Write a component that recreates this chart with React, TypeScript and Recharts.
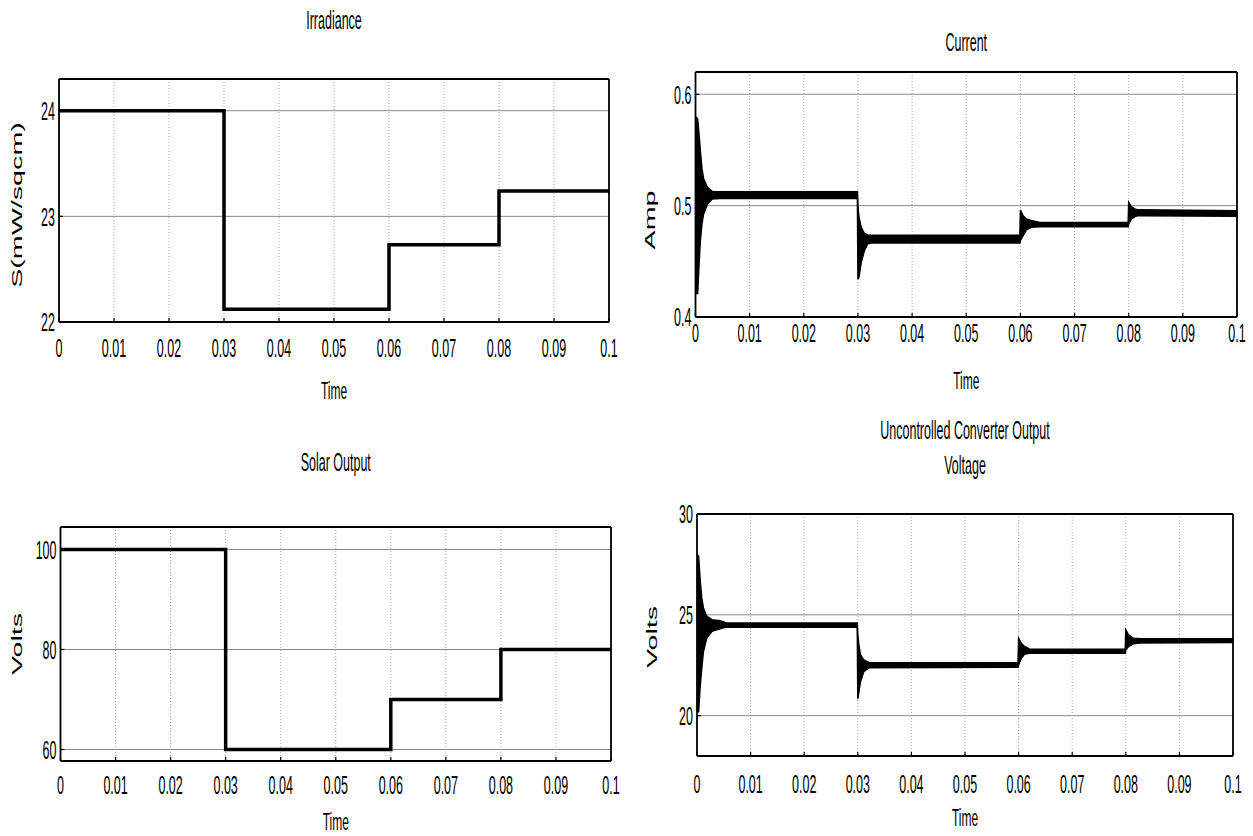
import React from "react";
import { ComposedChart, Line, Area, XAxis, YAxis, CartesianGrid } from "recharts";

// ---------- data ----------
const timeTicks = [0, 0.01, 0.02, 0.03, 0.04, 0.05, 0.06, 0.07, 0.08, 0.09, 0.1];
const timeTickLabels = ["0", "0.01", "0.02", "0.03", "0.04", "0.05", "0.06", "0.07", "0.08", "0.09", "0.1"];

const stepTimes = [0, 0.03, 0.06, 0.08, 0.1];
const irradianceValues = [24, 22.12, 22.73, 23.24, 23.24];
const solarValues = [100, 60, 70, 80, 80];

const irradianceTicks = [22, 23, 24];
const currentTicks = [0.4, 0.5, 0.6];
const solarTicks = [60, 80, 100];
const voltageTicks = [20, 25, 30];

// envelope (min / max) of the ripple
const currentTime = [0, 0.0004, 0.0006, 0.0009, 0.0012, 0.0015, 0.0022, 0.0031, 0.0045, 0.0299, 0.03, 0.0302, 0.0306, 0.0312, 0.0318, 0.0325, 0.0599, 0.06, 0.0605, 0.0611, 0.062, 0.0636, 0.0799, 0.08, 0.0805, 0.0811, 0.0817, 0.1];
const currentHigh = [0.58, 0.578, 0.567, 0.549, 0.533, 0.524, 0.5164, 0.5128, 0.5125, 0.5125, 0.499, 0.4895, 0.4806, 0.475, 0.4737, 0.4735, 0.4735, 0.4961, 0.491, 0.488, 0.4866, 0.4848, 0.4848, 0.503, 0.4991, 0.497, 0.4962, 0.4955];
const currentLow = [0.421, 0.421, 0.442, 0.469, 0.484, 0.4925, 0.5015, 0.506, 0.5065, 0.5065, 0.434, 0.436, 0.449, 0.4597, 0.4657, 0.4665, 0.4665, 0.4687, 0.4731, 0.4782, 0.4806, 0.481, 0.481, 0.4836, 0.488, 0.49, 0.491, 0.4905];

const voltageTime = [0, 0.0003, 0.00056, 0.00088, 0.0012, 0.0018, 0.0028, 0.0043, 0.0049, 0.0055, 0.0299, 0.03, 0.0302, 0.0305, 0.0311, 0.0321, 0.0599, 0.06, 0.0605, 0.0611, 0.062, 0.0799, 0.08, 0.0805, 0.0814, 0.0827, 0.1];
const voltageHigh = [28.0, 27.9, 26.84, 25.84, 25.34, 24.93, 24.76, 24.71, 24.66, 24.59, 24.59, 24.01, 23.51, 23.01, 22.76, 22.64, 22.62, 23.84, 23.59, 23.43, 23.31, 23.29, 24.26, 24.01, 23.84, 23.81, 23.81];
const voltageLow = [20.18, 20.2, 21.34, 22.34, 23.18, 23.84, 24.18, 24.31, 24.36, 24.38, 24.38, 20.84, 21.18, 21.68, 22.18, 22.38, 22.4, 22.51, 22.84, 23.04, 23.09, 23.09, 23.26, 23.43, 23.56, 23.6, 23.63];

// ---------- derived tables ----------
const irradianceData = stepTimes.map((t, i) => ({ t, v: irradianceValues[i] }));
const solarData = stepTimes.map((t, i) => ({ t, v: solarValues[i] }));
const currentData = currentTime.map((t, i) => ({ t, range: [currentLow[i], currentHigh[i]] }));
const voltageData = voltageTime.map((t, i) => ({ t, range: [voltageLow[i], voltageHigh[i]] }));

// ---------- style ----------
const FONT = "'Liberation Sans', Arial, Helvetica, sans-serif";
const SY = 2.05;
const AXIS = { stroke: "#000", strokeWidth: 1.8 };
const TICKLINE = { stroke: "#000", strokeWidth: 1.2 };

type Cfg = {
  box: { x: number; y: number; w: number; h: number };
  plot: { L: number; T: number; R: number; B: number };
  yDomain: [number, number];
  yTicks: number[];
  kind: "step" | "band";
  data: any[];
  xTickDy: number;
  titles: { text: string; y: number }[];
  timeY: number;
  yLabel: { text: string; x: number; y: number };
};

const panels: Cfg[] = [
  {
    box: { x: 0, y: 0, w: 625, h: 410 },
    plot: { L: 59, T: 79, R: 609, B: 322 },
    yDomain: [22, 24.3],
    yTicks: irradianceTicks,
    kind: "step",
    data: irradianceData,
    xTickDy: 26,
    titles: [{ text: "Irradiance", y: 20 }],
    timeY: 390,
    yLabel: { text: "S(mW/sqcm)", x: 17, y: 205 },
  },
  {
    box: { x: 626, y: 0, w: 627, h: 410 },
    plot: { L: 695.5, T: 72, R: 1237, B: 317 },
    yDomain: [0.4, 0.62],
    yTicks: currentTicks,
    kind: "band",
    data: currentData,
    xTickDy: 16,
    titles: [{ text: "Current", y: 42 }],
    timeY: 380,
    yLabel: { text: "Amp", x: 650, y: 220 },
  },
  {
    box: { x: 0, y: 410, w: 625, h: 426 },
    plot: { L: 60.5, T: 527, R: 611, B: 761 },
    yDomain: [57.7, 104.5],
    yTicks: solarTicks,
    kind: "step",
    data: solarData,
    xTickDy: 24,
    titles: [{ text: "Solar Output", y: 462 }],
    timeY: 821,
    yLabel: { text: "Volts", x: 17, y: 644 },
  },
  {
    box: { x: 626, y: 410, w: 627, h: 426 },
    plot: { L: 697, T: 514, R: 1233, B: 756 },
    yDomain: [18, 30],
    yTicks: voltageTicks,
    kind: "band",
    data: voltageData,
    xTickDy: 28,
    titles: [
      { text: "Uncontrolled Converter Output", y: 430 },
      { text: "Voltage", y: 465 },
    ],
    timeY: 817,
    yLabel: { text: "Volts", x: 652, y: 637 },
  },
];

function XTick(props: any) {
  const { x, y, payload, offsetY } = props;
  const i = timeTicks.indexOf(payload.value);
  const label = i >= 0 ? timeTickLabels[i] : String(payload.value);
  return (
    <text
      transform={`translate(${x},${y + offsetY}) scale(1,${SY})`}
      textAnchor="middle"
      dy="0.36em"
      fontSize={12.5}
      fontFamily={FONT}
      fill="#000"
    >
      {label}
    </text>
  );
}

function YTick(props: any) {
  const { x, y, payload } = props;
  return (
    <text
      transform={`translate(${x},${y}) scale(1,${SY})`}
      textAnchor="end"
      dy="0.36em"
      fontSize={12.5}
      fontFamily={FONT}
      fill="#000"
    >
      {String(payload.value)}
    </text>
  );
}

function Panel({ cfg }: { cfg: Cfg }) {
  const { box, plot } = cfg;
  const Yw = 40;
  const Xh = 40;
  const margin = {
    left: plot.L - box.x - Yw,
    top: plot.T - box.y,
    right: box.x + box.w - plot.R,
    bottom: box.y + box.h - plot.B - Xh,
  };
  return (
    <div style={{ position: "absolute", left: box.x, top: box.y }}>
      <ComposedChart width={box.w} height={box.h} margin={margin}>
        <CartesianGrid vertical={false} stroke="#8a8a8a" strokeWidth={1} />
        <CartesianGrid horizontal={false} stroke="#a5a5a5" strokeDasharray="1 2" />
        <XAxis
          type="number"
          dataKey="t"
          domain={[0, 0.1]}
          ticks={timeTicks}
          interval={0}
          allowDataOverflow
          height={Xh}
          tickSize={-4}
          tickMargin={4}
          axisLine={AXIS}
          tickLine={TICKLINE}
          tick={(p: any) => <XTick {...p} offsetY={cfg.xTickDy} />}
        />
        <XAxis
          xAxisId="top"
          orientation="top"
          mirror
          type="number"
          domain={[0, 0.1]}
          ticks={timeTicks}
          interval={0}
          allowDataOverflow
          tick={false}
          tickSize={4}
          axisLine={AXIS}
          tickLine={TICKLINE}
        />
        <YAxis
          type="number"
          domain={cfg.yDomain}
          ticks={cfg.yTicks}
          interval={0}
          allowDataOverflow
          width={Yw}
          tickSize={-4}
          tickMargin={8}
          axisLine={AXIS}
          tickLine={TICKLINE}
          tick={(p: any) => <YTick {...p} />}
        />
        <YAxis
          yAxisId="right"
          orientation="right"
          mirror
          type="number"
          domain={cfg.yDomain}
          ticks={cfg.yTicks}
          interval={0}
          allowDataOverflow
          tick={false}
          tickSize={4}
          axisLine={AXIS}
          tickLine={TICKLINE}
        />
        {cfg.kind === "step" ? (
          <Line
            data={cfg.data}
            type="stepAfter"
            dataKey="v"
            stroke="#000"
            strokeWidth={3.5}
            dot={false}
            activeDot={false}
            isAnimationActive={false}
          />
        ) : (
          <Area
            data={cfg.data}
            type="linear"
            dataKey="range"
            stroke="#000"
            strokeWidth={1.5}
            fill="#000"
            fillOpacity={1}
            dot={false}
            activeDot={false}
            isAnimationActive={false}
          />
        )}
      </ComposedChart>
    </div>
  );
}

export default function App() {
  return (
    <div style={{ position: "absolute", left: 0, top: 0, width: 1253, height: 836, background: "#fff", overflow: "hidden" }}>
      {panels.map((cfg, i) => (
        <Panel key={i} cfg={cfg} />
      ))}
      <svg width={1253} height={836} style={{ position: "absolute", left: 0, top: 0, pointerEvents: "none" }}>
        {panels.map((cfg, i) => {
          const cx = (cfg.plot.L + cfg.plot.R) / 2;
          return (
            <g key={i}>
              {cfg.titles.map((t, j) => (
                <text
                  key={j}
                  transform={`translate(${cx},${t.y}) scale(1,${SY})`}
                  textAnchor="middle"
                  dy="0.36em"
                  fontSize={12.5}
                  fontFamily={FONT}
                  fill="#000"
                >
                  {t.text}
                </text>
              ))}
              <text
                transform={`translate(${cx},${cfg.timeY}) scale(1,${SY})`}
                textAnchor="middle"
                dy="0.36em"
                fontSize={12}
                fontFamily={FONT}
                fill="#000"
              >
                Time
              </text>
              <text
                transform={`translate(${cfg.yLabel.x},${cfg.yLabel.y}) scale(1,${SY}) rotate(-90)`}
                textAnchor="middle"
                dy="0.36em"
                fontSize={14}
                fontFamily={FONT}
                fill="#000"
              >
                {cfg.yLabel.text}
              </text>
            </g>
          );
        })}
      </svg>
    </div>
  );
}
